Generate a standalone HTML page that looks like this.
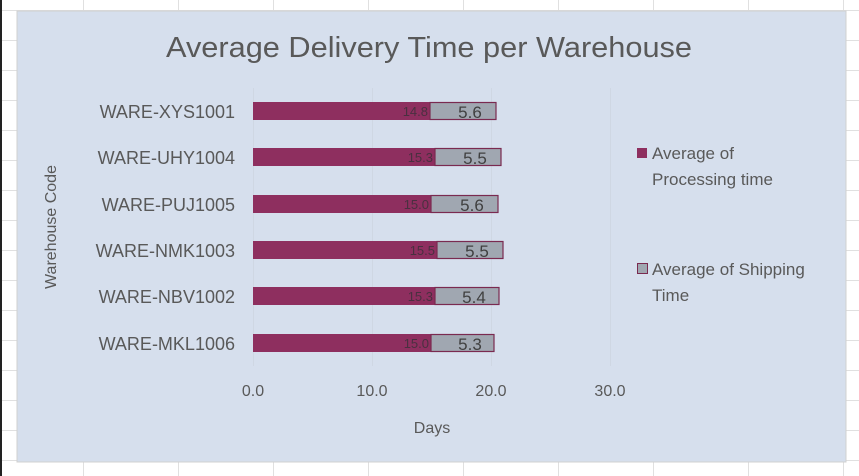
<!DOCTYPE html>
<html><head><meta charset="utf-8"><style>
html,body{margin:0;padding:0;background:#fff;}
body{width:859px;height:476px;position:relative;overflow:hidden;font-family:"Liberation Sans",sans-serif;}
</style></head><body>
<svg width="859" height="476" xmlns="http://www.w3.org/2000/svg" style="position:absolute;left:0;top:0">
<g stroke="#e0e0e0" stroke-width="1">
<line x1="83.5" y1="0" x2="83.5" y2="476"/><line x1="178.5" y1="0" x2="178.5" y2="476"/>
<line x1="273.5" y1="0" x2="273.5" y2="476"/><line x1="368.5" y1="0" x2="368.5" y2="476"/>
<line x1="463.5" y1="0" x2="463.5" y2="476"/><line x1="558.5" y1="0" x2="558.5" y2="476"/>
<line x1="653.5" y1="0" x2="653.5" y2="476"/><line x1="748.5" y1="0" x2="748.5" y2="476"/>
<line x1="843.5" y1="0" x2="843.5" y2="476"/>
<line x1="0" y1="10.5" x2="859" y2="10.5"/><line x1="0" y1="40.5" x2="859" y2="40.5"/>
<line x1="0" y1="70.5" x2="859" y2="70.5"/><line x1="0" y1="100.5" x2="859" y2="100.5"/>
<line x1="0" y1="130.5" x2="859" y2="130.5"/><line x1="0" y1="160.5" x2="859" y2="160.5"/>
<line x1="0" y1="190.5" x2="859" y2="190.5"/><line x1="0" y1="220.5" x2="859" y2="220.5"/>
<line x1="0" y1="250.5" x2="859" y2="250.5"/><line x1="0" y1="280.5" x2="859" y2="280.5"/>
<line x1="0" y1="310.5" x2="859" y2="310.5"/><line x1="0" y1="340.5" x2="859" y2="340.5"/>
<line x1="0" y1="370.5" x2="859" y2="370.5"/><line x1="0" y1="400.5" x2="859" y2="400.5"/>
<line x1="0" y1="430.5" x2="859" y2="430.5"/><line x1="0" y1="460.5" x2="859" y2="460.5"/>
</g>
<rect x="0" y="0" width="2" height="476" fill="#222"/>
<rect x="17" y="11" width="829" height="451" fill="#d6dfed" stroke="#d0d0d0"/>
<g stroke="#cfd7e3" stroke-width="1">
<line x1="253.5" y1="88" x2="253.5" y2="366"/><line x1="372.5" y1="88" x2="372.5" y2="366"/>
<line x1="491.5" y1="88" x2="491.5" y2="366"/><line x1="610.5" y1="88" x2="610.5" y2="366"/>
</g>
<text x="166" y="57" font-size="29" fill="#595959" textLength="526" lengthAdjust="spacingAndGlyphs">Average Delivery Time per Warehouse</text>
<g font-size="18" fill="#595959" text-anchor="end">
<text x="235" y="118">WARE-XYS1001</text><text x="235" y="164">WARE-UHY1004</text>
<text x="235" y="211">WARE-PUJ1005</text><text x="235" y="257">WARE-NMK1003</text>
<text x="235" y="303">WARE-NBV1002</text><text x="235" y="350">WARE-MKL1006</text>
</g>
<text transform="translate(56,227) rotate(-90)" text-anchor="middle" font-size="16" fill="#595959">Warehouse Code</text>
<g fill="#8e2f5f">
<rect x="253" y="102" width="177" height="18"/><rect x="253" y="148" width="182" height="18"/>
<rect x="253" y="195" width="178" height="18"/><rect x="253" y="241" width="184" height="18"/>
<rect x="253" y="287" width="182" height="18"/><rect x="253" y="334" width="178" height="18"/>
</g>
<g fill="#a0a7b1" stroke="#7a2a50" stroke-width="1.2">
<rect x="430" y="102.5" width="66" height="17"/><rect x="435" y="148.5" width="66" height="17"/>
<rect x="431" y="195.5" width="67" height="17"/><rect x="437" y="241.5" width="66" height="17"/>
<rect x="435" y="287.5" width="64" height="17"/><rect x="431" y="334.5" width="63" height="17"/>
</g>
<g font-size="13" fill="#4a3040" text-anchor="end">
<text x="428" y="116">14.8</text><text x="433" y="162">15.3</text><text x="429" y="209">15.0</text>
<text x="435" y="255">15.5</text><text x="433" y="301">15.3</text><text x="429" y="348">15.0</text>
</g>
<g font-size="17" fill="#404040" text-anchor="middle">
<text x="470" y="118">5.6</text><text x="475" y="164">5.5</text><text x="472" y="211">5.6</text>
<text x="477" y="257">5.5</text><text x="474" y="303">5.4</text><text x="470" y="350">5.3</text>
</g>
<g font-size="16" fill="#595959" text-anchor="middle">
<text x="253" y="396">0.0</text><text x="372" y="396">10.0</text>
<text x="491" y="396">20.0</text><text x="610" y="396">30.0</text>
</g>
<text x="432" y="433" text-anchor="middle" font-size="16" fill="#595959">Days</text>
<rect x="637" y="148" width="10" height="10" fill="#8e2f5f"/>
<text x="652" y="159" font-size="17" fill="#595959">Average of</text>
<text x="652" y="185" font-size="17" fill="#595959">Processing time</text>
<rect x="637.5" y="263.5" width="10" height="10" fill="#a0a7b1" stroke="#7a2a50"/>
<text x="652" y="275" font-size="17" fill="#595959">Average of Shipping</text>
<text x="652" y="301" font-size="17" fill="#595959">Time</text>
</svg>
</body></html>
